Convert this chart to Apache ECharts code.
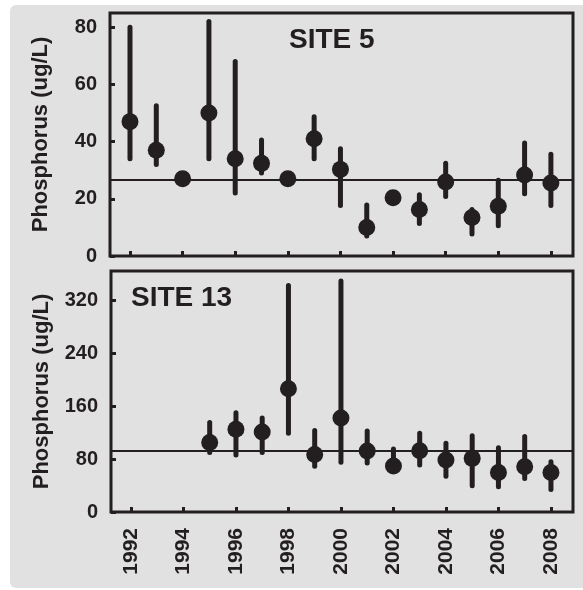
<!DOCTYPE html>
<html>
<head>
<meta charset="utf-8">
<script src="https://cdn.jsdelivr.net/npm/echarts@6/dist/echarts.min.js"></script>
<style>
  html, body { margin: 0; padding: 0; background: #fff; }
  #chart { width: 583px; height: 590px; }
</style>
</head>
<body>
<div id="chart"></div>
<script>
  // years on the x axis (one point per year)
  var years = [1992, 1993, 1994, 1995, 1996, 1997, 1998, 1999, 2000, 2001, 2002, 2003, 2004, 2005, 2006, 2007, 2008]
  var yearTicks = [1992, 1994, 1996, 1998, 2000, 2002, 2004, 2006, 2008]

  // SITE 5: mean and range
  var site5Mean = [47, 37, 27, 50, 34, 32.4, 27, 41, 30.3, 10, 20.4, 16.3, 25.9, 13.5, 17.4, 28.3, 25.5]
  var site5Low = [34, 32, null, 34, 22, 29, null, 34, 17.7, 7, null, 11.4, 20.8, 7.7, 10.6, 21.8, 17.7]
  var site5High = [80, 52.6, null, 82, 68, 40.6, null, 48.7, 37.5, 17.8, null, 21.4, 32.4, 16.3, 26.5, 39.5, 35.6]
  var site5Ref = 26.5
  var site5Ticks = [0, 20, 40, 60, 80]

  // SITE 13: no samples before 1995
  var site13Mean = [null, null, null, 105, 125, 121, 186, 87, 142, 92, 69.4, 92.6, 78.5, 81, 59.8, 68.3, 59.8]
  var site13Low = [null, null, null, 90, 86, 90, 119, 69, 75, 74, 66, 71, 54, 39.5, 38, 50.7, 34]
  var site13High = [null, null, null, 135, 150, 142, 342, 123, 349, 122.5, 95, 119, 104, 115, 97, 114, 76]
  var site13Ref = 92.6
  var site13Ticks = [0, 80, 160, 240, 320]

  var ink = '#231f20'
  var font = 'Liberation Sans, Arial, sans-serif'

  var chart = echarts.init(document.getElementById('chart'), null, { renderer: 'canvas' })

  function rangeData(lo, hi) {
    var out = []
    years.forEach(function (y, i) {
      if (lo[i] != null && hi[i] != null) out.push([y, lo[i], hi[i]])
    })
    return out
  }
  function meanData(m) {
    var out = []
    years.forEach(function (y, i) {
      if (m[i] != null) out.push([y, m[i]])
    })
    return out
  }
  function renderBar(params, api) {
    var p1 = api.coord([api.value(0), api.value(1)])
    var p2 = api.coord([api.value(0), api.value(2)])
    return {
      type: 'line',
      shape: { x1: p1[0], y1: p1[1], x2: p2[0], y2: p2[1] },
      style: { stroke: ink, lineWidth: 5, lineCap: 'round' }
    }
  }
  function xAxis(idx, showLabel) {
    return {
      type: 'value',
      gridIndex: idx,
      min: 1991.24,
      max: 2008.84,
      splitLine: { show: false },
      axisLine: { show: false },
      axisTick: { show: true, inside: true, length: 5, customValues: yearTicks, lineStyle: { color: ink, width: 3 } },
      axisLabel: {
        show: showLabel,
        customValues: yearTicks,
        formatter: function (v) { return String(v) },
        rotate: 90,
        margin: 16,
        color: ink,
        fontFamily: font,
        fontWeight: 'bold',
        fontSize: 21
      }
    }
  }
  function yAxis(idx, max, ticks) {
    return {
      type: 'value',
      gridIndex: idx,
      min: 0,
      max: max,
      name: 'Phosphorus (ug/L)',
      nameLocation: 'middle',
      nameRotate: 90,
      nameGap: 58,
      nameTextStyle: { color: ink, fontFamily: font, fontWeight: 'bold', fontSize: 22 },
      splitLine: { show: false },
      axisLine: { show: false },
      axisTick: { show: true, inside: true, length: 5, customValues: ticks, lineStyle: { color: ink, width: 3 } },
      axisLabel: {
        customValues: ticks,
        margin: 13,
        color: ink,
        fontFamily: font,
        fontWeight: 'bold',
        fontSize: 20
      }
    }
  }
  function refLine(v) {
    return {
      silent: true,
      symbol: ['none', 'none'],
      label: { show: false },
      lineStyle: { color: ink, width: 2, type: 'solid' },
      data: [{ yAxis: v }]
    }
  }

  chart.setOption({
    animation: false,
    backgroundColor: '#fff',
    graphic: [{
      type: 'rect',
      left: 10,
      top: 5,
      z: -10,
      shape: { width: 580, height: 583, r: 6 },
      style: { fill: '#e1e1e1' }
    }],
    title: [
      { text: 'SITE 5', left: 289, top: 26, padding: 0, textStyle: { color: ink, fontFamily: font, fontWeight: 'bold', fontSize: 28 } },
      { text: 'SITE 13', left: 131, top: 284, padding: 0, textStyle: { color: ink, fontFamily: font, fontWeight: 'bold', fontSize: 28 } }
    ],
    grid: [
      { left: 110, top: 13, width: 463, height: 243, show: true, borderColor: ink, borderWidth: 3, backgroundColor: 'transparent' },
      { left: 111, top: 271, width: 462, height: 241, show: true, borderColor: ink, borderWidth: 3, backgroundColor: 'transparent' }
    ],
    xAxis: [xAxis(0, false), xAxis(1, true)],
    yAxis: [yAxis(0, 85, site5Ticks), yAxis(1, 364, site13Ticks)],
    series: [
      {
        type: 'custom',
        xAxisIndex: 0,
        yAxisIndex: 0,
        renderItem: renderBar,
        encode: { x: 0, y: [1, 2] },
        data: rangeData(site5Low, site5High),
        z: 2
      },
      {
        type: 'scatter',
        xAxisIndex: 0,
        yAxisIndex: 0,
        symbolSize: 17,
        itemStyle: { color: ink, opacity: 1 },
        data: meanData(site5Mean),
        markLine: refLine(site5Ref),
        z: 3
      },
      {
        type: 'custom',
        xAxisIndex: 1,
        yAxisIndex: 1,
        renderItem: renderBar,
        encode: { x: 0, y: [1, 2] },
        data: rangeData(site13Low, site13High),
        z: 2
      },
      {
        type: 'scatter',
        xAxisIndex: 1,
        yAxisIndex: 1,
        symbolSize: 17,
        itemStyle: { color: ink, opacity: 1 },
        data: meanData(site13Mean),
        markLine: refLine(site13Ref),
        z: 3
      }
    ]
  })
</script>
</body>
</html>
